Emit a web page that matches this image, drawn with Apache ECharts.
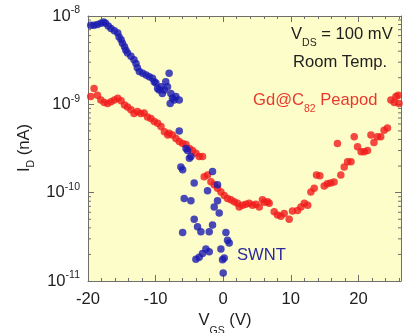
<!DOCTYPE html>
<html><head><meta charset="utf-8">
<script src="https://cdn.jsdelivr.net/npm/echarts@6/dist/echarts.min.js"></script>
<style>html,body{margin:0;padding:0;background:#fff}#c{width:403px;height:333px}</style>
</head><body><div id="c"></div>
<script>
// ---- data (V_GS in V, I_D in nA) ----
const swntV = [-20.1,-19.6,-19.1,-18.6,-18.1,-17.7,-17.4,-17.0,-16.6,-16.1,-15.6,-15.4,-15.1,-14.9,-14.6,-14.4,-14.15,-13.65,-13.2,-12.9,-12.7,-12.4,-11.9,-11.4,-10.95,-10.46,-10.2,-9.96,-9.7,-9.47,-9.2,-9.0,-8.7,-8.5,-8.24,-8.0,-7.74,-7.5,-7.84,-7.25,-7.0,-6.5,-6.5,-6.26,-6.0,-5.5,-5.28,-5.0,-4.78,-4.29,-1.58,-2.32,-0.84,-5.77,-4.78,-0.84,-1.33,-0.59,-4.29,-3.8,-3.3,-6.0,-2.07,-1.58,0.4,0.64,0.89,-0.34,-2.56,-3.06,-3.55,-4.04,-2.07,0.15,-0.1,0.0];
const swntI = [7.7e-9,7.85e-9,7.85e-9,8.0e-9,8.3e-9,8.55e-9,8.3e-9,7.7e-9,7.2e-9,6.8e-9,6.4e-9,5.8e-9,5.4e-9,4.9e-9,4.5e-9,4.1e-9,3.8e-9,3.5e-9,3.2e-9,2.9e-9,2.6e-9,2.35e-9,2.25e-9,2.15e-9,2.05e-9,1.97e-9,1.8e-9,1.74e-9,1.51e-9,1.45e-9,1.58e-9,1.33e-9,1.45e-9,1.8e-9,1.58e-9,2.25e-9,1.33e-9,1.17e-9,1.02e-9,1.12e-9,1.23e-9,1.12e-9,5.0e-10,1.95e-10,1.82e-10,3.16e-10,3.0e-10,2.45e-10,2.57e-10,1.29e-10,1.74e-10,1.05e-10,1.23e-10,8.6e-11,8.1e-11,8.1e-11,6.9e-11,5.9e-11,5.0e-11,4.1e-11,3.6e-11,3.55e-11,3.6e-11,4.3e-11,3.55e-11,2.9e-11,2.7e-11,2.3e-11,2.3e-11,2.05e-11,1.86e-11,1.76e-11,2.15e-11,1.82e-11,1.74e-11,1.23e-11];

const peaV = [-20.1,-19.6,-19.1,-18.6,-18.1,-17.6,-17.1,-16.6,-16.1,-15.6,-15.1,-14.6,-14.15,-13.65,-13.2,-12.7,-12.2,-11.7,-11.2,-10.7,-10.2,-9.7,-9.2,-8.7,-8.2,-8.0,-7.5,-7.0,-6.5,-6.0,-5.5,-5.0,-4.54,-4.04,-3.55,-3.06,-2.81,-2.32,-1.82,-1.33,-0.84,-0.34,0.15,0.64,1.14,1.63,2.1,2.37,2.86,3.35,3.85,4.34,4.83,5.33,5.8,6.1,6.56,6.8,7.54,8.03,8.53,9.02,9.76,10.25,11.0,11.5,12.0,12.5,12.97,13.46,13.8,14.3,14.94,15.4,15.9,16.4,16.9,17.4,17.9,18.4,18.9,19.38,19.87,20.4,20.86,21.35,21.85,22.3,22.8,23.3,23.8,24.3,24.8,25.3,25.55,25.9,26.0];
const peaI = [1.17e-9,1.23e-9,1.51e-9,1.27e-9,1.12e-9,1.05e-9,1.02e-9,1.07e-9,1.12e-9,1.17e-9,1.10e-9,9.8e-10,9.3e-10,8.7e-10,7.9e-10,8.3e-10,7.9e-10,8.0e-10,7.2e-10,6.9e-10,6.4e-10,6.1e-10,5.6e-10,4.9e-10,4.5e-10,4.7e-10,4.5e-10,4.1e-10,3.8e-10,3.6e-10,3.5e-10,3.16e-10,3.0e-10,2.8e-10,2.57e-10,2.57e-10,1.51e-10,1.58e-10,1.33e-10,1.23e-10,1.12e-10,1.02e-10,9.3e-11,8.6e-11,8.3e-11,7.9e-11,7.6e-11,6.9e-11,7.2e-11,7.4e-11,7.6e-11,7.2e-11,7.4e-11,6.9e-11,8.3e-11,7.8e-11,7.9e-11,7.6e-11,6.1e-11,5.6e-11,5.4e-11,5.8e-11,5.0e-11,6.2e-11,6.3e-11,6.9e-11,7.6e-11,7.2e-11,1.02e-10,1.12e-10,1.58e-10,1.55e-10,1.19e-10,1.26e-10,1.29e-10,1.32e-10,3.6e-10,1.58e-10,1.95e-10,2.24e-10,2.24e-10,4.3e-10,3.3e-10,2.9e-10,2.9e-10,3.0e-10,4.5e-10,3.7e-10,4.3e-10,4.3e-10,5.1e-10,5.4e-10,1.12e-9,1.05e-9,1.23e-9,1.27e-9,1.02e-9];

const xMin = -20, xMax = 26.3, xMajor = 10, xMinor = 2;
const yMin = 1e-11, yMax = 1e-8;
const xTickLabels = ['-20','-10','0','10','20'];

// ---- build ----
const FONT = 'Liberation Sans, Arial, Helvetica, sans-serif';
const FS = 16.6;
const TXT = '#1e1e1e';
const AX = '#6e6e6e';
const pair = (xs, ys) => xs.map((x, i) => [x, ys[i]]);

const minorY = [];
for (let e = Math.round(Math.log10(yMin)); e < Math.round(Math.log10(yMax)); e++) {
  for (let k = 2; k <= 9; k++) minorY.push([xMin, k * Math.pow(10, e)]);
}

const xAxisBase = (pos, interval, len, labels, line) => ({
  type: 'value', position: pos, min: xMin, max: xMax, interval: interval,
  axisLine: { show: line, onZero: false, lineStyle: { color: AX, width: 1 } },
  axisTick: { show: true, inside: true, length: len, lineStyle: { color: AX, width: 1 } },
  splitLine: { show: false },
  axisLabel: labels ? {
    show: true, margin: 9, color: TXT, fontFamily: FONT, fontSize: FS, lineHeight: 18,
    showMaxLabel: false,
    formatter: v => { const s = String(v); return xTickLabels.indexOf(s) >= 0 ? s : ''; }
  } : { show: false }
});

const supFmt = v => '{b|10}{sup|' + Math.round(Math.log10(v)) + '}';
const richPair = (color, lh) => ({
  n: { fontSize: FS, lineHeight: lh, fontFamily: FONT, fill: color, color: color },
  s: { fontSize: 10.5, lineHeight: 10, verticalAlign: 'bottom', fontFamily: FONT, fill: color, color: color }
});

const chart = echarts.init(document.getElementById('c'), null, { renderer: 'canvas' });
chart.setOption({
  backgroundColor: '#ffffff',
  animation: false,
  grid: { left: 88, right: 2, top: 16, bottom: 52, show: true, backgroundColor: '#fdfdc9', borderWidth: 0 },
  xAxis: [
    xAxisBase('bottom', xMajor, 6, true, true),
    xAxisBase('bottom', xMinor, 3, false, false),
    xAxisBase('top', xMajor, 6, false, true),
    xAxisBase('top', xMinor, 3, false, false)
  ],
  yAxis: [
    {
      type: 'log', logBase: 10, min: yMin, max: yMax, position: 'left',
      axisLine: { show: true, onZero: false, lineStyle: { color: AX, width: 1 } },
      axisTick: { show: true, inside: true, length: 6, lineStyle: { color: AX } },
      splitLine: { show: false },
      axisLabel: {
        margin: 8, color: TXT, fontFamily: FONT, formatter: supFmt,
        rich: {
          b: { fontSize: FS, lineHeight: 22, fontFamily: FONT, color: TXT },
          sup: { fontSize: 10.5, lineHeight: 10, verticalAlign: 'top', fontFamily: FONT, color: TXT }
        }
      }
    },
    {
      type: 'log', logBase: 10, min: yMin, max: yMax, position: 'right',
      axisLine: { show: true, onZero: false, lineStyle: { color: AX, width: 1 } },
      axisTick: { show: true, inside: true, length: 6, lineStyle: { color: AX } },
      splitLine: { show: false },
      axisLabel: { show: false }
    }
  ],
  series: [
    {
      type: 'custom', xAxisIndex: 0, yAxisIndex: 0, silent: true, z: 1,
      data: minorY,
      renderItem: (params, api) => {
        const v = api.value(1);
        const p = api.coord([xMin, v]);
        const q = api.coord([xMax, v]);
        const st = { stroke: AX, lineWidth: 1 };
        return { type: 'group', children: [
          { type: 'line', shape: { x1: p[0], y1: p[1], x2: p[0] + 3, y2: p[1] }, style: st },
          { type: 'line', shape: { x1: q[0], y1: q[1], x2: q[0] - 3, y2: q[1] }, style: st }
        ] };
      }
    },
    {
      name: 'Gd@C82 Peapod', type: 'scatter', xAxisIndex: 0, yAxisIndex: 0,
      data: pair(peaV, peaI), symbol: 'circle', symbolSize: 7.5,
      itemStyle: { color: '#f01c1c' }, z: 3
    },
    {
      name: 'SWNT', type: 'scatter', xAxisIndex: 0, yAxisIndex: 0,
      data: pair(swntV, swntI), symbol: 'circle', symbolSize: 7.5,
      itemStyle: { color: '#1a1ab2' }, z: 4
    }
  ],
  graphic: [
    { type: 'text', x: 291, y: 34, z: 10, style: {
        text: '{n|V}{s|DS}{n| = 100 mV}', verticalAlign: 'middle', align: 'left',
        rich: richPair(TXT, 30) } },
    { type: 'text', x: 293, y: 62, z: 10, style: {
        text: 'Room Temp.', verticalAlign: 'middle', align: 'left',
        fontSize: FS, fontFamily: FONT, fill: TXT } },
    { type: 'text', x: 253, y: 100, z: 10, style: {
        text: '{n|Gd@C}{s|82}{n| Peapod}', verticalAlign: 'middle', align: 'left',
        rich: richPair('#e8382e', 30) } },
    { type: 'text', x: 237, y: 255, z: 10, style: {
        text: 'SWNT', verticalAlign: 'middle', align: 'left',
        fontSize: FS, fontFamily: FONT, fill: '#2a2a9e' } },
    { type: 'text', x: 225, y: 320, z: 10, style: {
        text: '{n|V}{s|GS}{n| (V)}', verticalAlign: 'middle', align: 'center',
        rich: richPair(TXT, 34) } },
    { type: 'text', x: 24, y: 148, rotation: Math.PI / 2, z: 10, style: {
        text: '{n|I}{s|D}{n| (nA)}', verticalAlign: 'middle', align: 'center',
        rich: richPair(TXT, 26) } }
  ]
});
</script>
</body></html>
